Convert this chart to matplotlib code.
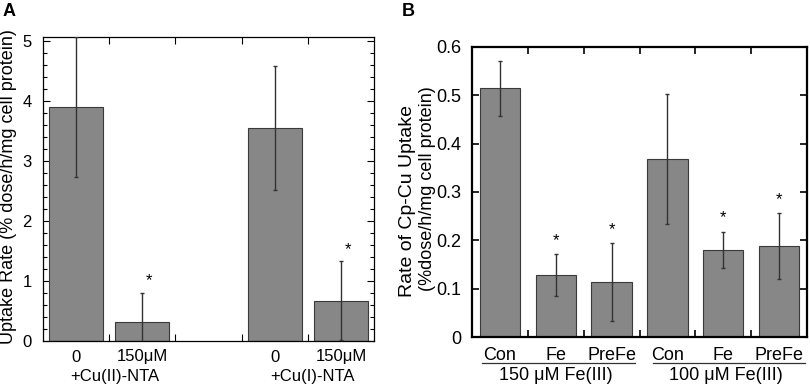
import matplotlib
matplotlib.use("Agg")
import matplotlib.pyplot as plt
import matplotlib.transforms as mtransforms
from matplotlib.ticker import MultipleLocator

plt.rcParams['font.family'] = ['Liberation Sans', 'DejaVu Sans']

# Panel A data
a_tick_labels = ["0", "150\u03bcM", "0", "150\u03bcM"]
a_group_labels = ["+Cu(II)-NTA", "+Cu(I)-NTA"]
a_values = [3.9, 0.32, 3.55, 0.67]
a_errors = [1.17, 0.48, 1.03, 0.66]
a_star = [False, True, False, True]

# Panel B data
b_tick_labels = ["Con", "Fe", "PreFe", "Con", "Fe", "PreFe"]
b_group_labels = ["150 \u03bcM Fe(III)", "100 \u03bcM Fe(III)"]
b_values = [0.515, 0.128, 0.114, 0.368, 0.180, 0.188]
b_errors = [0.057, 0.043, 0.081, 0.134, 0.038, 0.068]
b_star = [False, True, True, False, True, True]

BAR = '#878787'
EDGE = '#3a3a3a'
FS = 12
FSB = 13

fig = plt.figure(figsize=(8.1, 3.87), dpi=100)

# ---------- Panel A ----------
axA = fig.add_axes([43/810, 1-341/387, (374-43)/810, (341-37)/387])
a_pos = [0.5, 1.5, 3.5, 4.5]
axA.bar(a_pos, a_values, width=0.82, color=BAR, edgecolor=EDGE, linewidth=0.8, zorder=2)
axA.errorbar(a_pos, a_values, yerr=a_errors, fmt='none', ecolor='#333333',
             elinewidth=1.0, capsize=1.5, capthick=1.0, zorder=3)
for x, v, e, s in zip(a_pos, a_values, a_errors, a_star):
    if s:
        axA.text(x + 0.1, v + e + 0.2, "*", ha='center', va='center', fontsize=FS)
axA.set_xlim(0, 5)
axA.set_ylim(0, 5.07)
axA.yaxis.set_major_locator(MultipleLocator(1))
axA.yaxis.set_minor_locator(MultipleLocator(0.2))
axA.set_xticks([1, 2, 3, 4])
axA.set_xticklabels([])
axA.tick_params(axis='both', which='both', direction='in', top=True, right=True)
axA.tick_params(axis='both', which='major', length=5, width=0.8, labelsize=FS)
axA.tick_params(axis='y', which='minor', length=3, width=0.8)
axA.tick_params(axis='y', which='major', pad=8)
for sp in axA.spines.values():
    sp.set_linewidth(0.9)
transA = mtransforms.blended_transform_factory(axA.transData, fig.transFigure)
for x, lab in zip(a_pos, a_tick_labels):
    axA.text(x, 1-357/387, lab, transform=transA, ha='center', va='center', fontsize=FS)
for x, lab in zip([1.08, 4.07], a_group_labels):
    axA.text(x, 1-377/387, lab, transform=transA, ha='center', va='center', fontsize=FS)
fig.text(9/810, 1-187/387, "Uptake Rate (% dose/h/mg cell protein)", rotation=90,
         ha='center', va='center', fontsize=13)
fig.text(3/810, 1-11/387, "A", fontsize=13, fontweight='bold', ha='left', va='center')

# ---------- Panel B ----------
axB = fig.add_axes([472/810, 1-337/387, (807-472)/810, (337-47)/387])
b_pos = [0.5, 1.5, 2.5, 3.5, 4.5, 5.5]
axB.bar(b_pos, b_values, width=0.72, color=BAR, edgecolor=EDGE, linewidth=0.8, zorder=2)
axB.errorbar(b_pos, b_values, yerr=b_errors, fmt='none', ecolor='#333333',
             elinewidth=1.0, capsize=1.5, capthick=1.0, zorder=3)
for x, v, e, s in zip(b_pos, b_values, b_errors, b_star):
    if s:
        axB.text(x, v + e + 0.028, "*", ha='center', va='center', fontsize=FS)
axB.set_xlim(0, 6)
axB.set_ylim(0, 0.6)
axB.set_yticks([0, 0.1, 0.2, 0.3, 0.4, 0.5, 0.6])
axB.set_yticklabels(["0", "0.1", "0.2", "0.3", "0.4", "0.5", "0.6"])
axB.set_xticks([1, 2, 3, 4, 5])
axB.set_xticklabels([])
axB.tick_params(axis='both', which='both', direction='in', top=True, right=True)
axB.tick_params(axis='both', which='major', length=5, width=1.2, labelsize=FSB, pad=8)
for sp in axB.spines.values():
    sp.set_linewidth(1.6)
transB = mtransforms.blended_transform_factory(axB.transData, fig.transFigure)
for x, lab in zip(b_pos, b_tick_labels):
    axB.text(x, 1-355/387, lab, transform=transB, ha='center', va='center', fontsize=FSB)
for (x0, x1) in [(0.18, 2.92), (3.24, 5.97)]:
    axB.plot([x0, x1], [1-363/387, 1-363/387], transform=transB, color='#333333',
             lw=0.9, clip_on=False)
for x, lab in zip([1.5, 4.55], b_group_labels):
    axB.text(x, 1-376/387, lab, transform=transB, ha='center', va='center', fontsize=FSB)
fig.text(407/810, 1-201/387, "Rate of Cp-Cu Uptake", rotation=90,
         ha='center', va='center', fontsize=14)
fig.text(428/810, 1-189/387, "(%dose/h/mg cell protein)", rotation=90,
         ha='center', va='center', fontsize=13)
fig.text(402/810, 1-11/387, "B", fontsize=13, fontweight='bold', ha='left', va='center')

fig.savefig("out.png", dpi=100)
